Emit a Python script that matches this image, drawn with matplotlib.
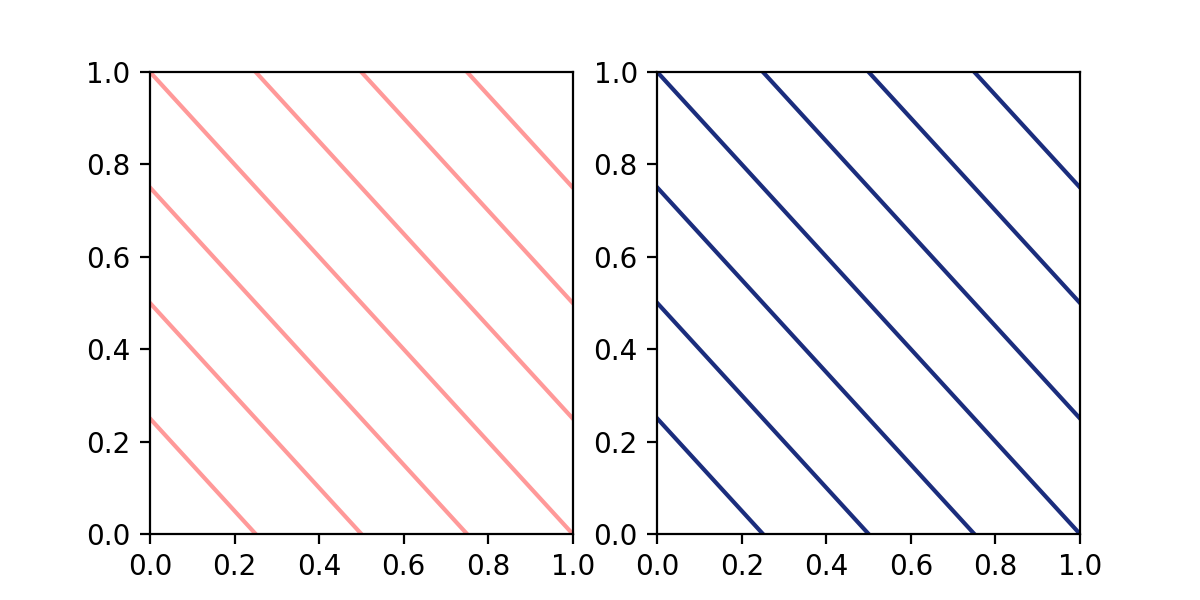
import matplotlib
matplotlib.use('Agg')
import matplotlib.pyplot as plt

# line offsets: each line is x + y = c
offsets = [0.25, 0.5, 0.75, 1.0, 1.25, 1.5, 1.75]
colors = ['#ff9999', '#1b2d7d']

fig, axes = plt.subplots(1, 2, figsize=(6, 3), dpi=200)

for ax, col in zip(axes, colors):
    for c in offsets:
        x0 = max(0.0, c - 1.0)
        x1 = min(1.0, c)
        ax.plot([x0, x1], [c - x0, c - x1], color=col, lw=1.5)
    ax.set_xlim(0, 1)
    ax.set_ylim(0, 1)

fig.savefig('out.png')
